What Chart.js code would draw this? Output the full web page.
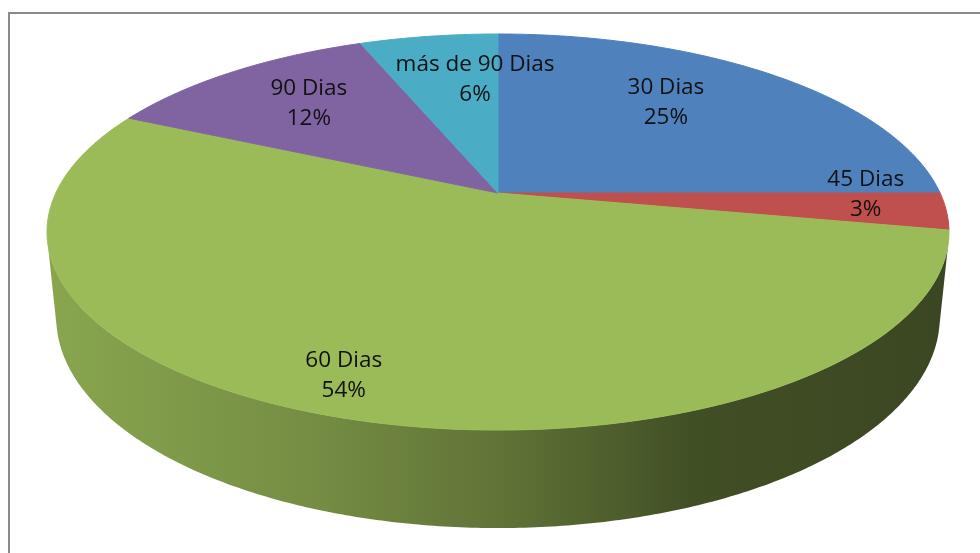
<!DOCTYPE html>
<html lang="es">
<head>
    <meta charset="UTF-8">
    <title>Plazos de pago</title>
    <script src="https://cdn.jsdelivr.net/npm/chart.js"></script>
    <style>
        body {
            margin: 0;
            padding: 0;
            background: #fff;
        }
        .wrap {
            position: relative;
            width: 980px;
            height: 553px;
            overflow: hidden;
            background: #fff;
        }
        .frame {
            position: absolute;
            left: 8px;
            top: 12px;
            width: 1100px;
            height: 700px;
            border: 2px solid #8a8a8a;
        }
        #pie {
            position: absolute;
            left: 0;
            top: 0;
        }
    </style>
</head>
<body>
<div class="wrap">
    <div class="frame"></div>
    <canvas id="pie" width="980" height="553"></canvas>
</div>

<script>
// data
const categories = ['30 Dias', '45 Dias', '60 Dias', '90 Dias', 'más de 90 Dias'];
const shares = [25, 3, 54, 12, 6];
const sliceColors = ['#4f81bd', '#c0504d', '#9bbb59', '#8064a2', '#4bacc6'];

// where each label sits: fraction along the slice, fraction of the radius
const labelSpots = [[0.43, 0.67], [0.07, 0.83], [0.51, 0.86], [0.52, 0.70], [0.77, 0.68]];

// fake 3D camera looking down on the disc
const cam = { tilt: 25.5 * Math.PI / 180, dist: 4.58, focal: 2025, depth: 0.214 };

function project(cx, cy, u, v, w) {
    const s = Math.sin(cam.tilt), c = Math.cos(cam.tilt);
    const z = cam.dist - v * c - w * s;
    return [cx + cam.focal * u / z, cy + cam.focal * (v * s - w * c) / z];
}

function rim(cx, cy, a0, a1, w) {
    const pts = [];
    const n = Math.max(2, Math.ceil(Math.abs(a1 - a0) / 0.01));
    for (let k = 0; k <= n; k++) {
        const a = a0 + (a1 - a0) * k / n;
        pts.push(project(cx, cy, Math.cos(a), Math.sin(a), w));
    }
    return pts;
}

function shade(hex, f) {
    const n = parseInt(hex.slice(1), 16);
    const r = Math.round(((n >> 16) & 255) * f);
    const g = Math.round(((n >> 8) & 255) * f);
    const b = Math.round((n & 255) * f);
    return 'rgb(' + r + ',' + g + ',' + b + ')';
}

const pie3d = {
    id: 'pie3d',
    beforeDatasetsDraw(chart) {
        const ctx = chart.ctx;
        const arcs = chart.getDatasetMeta(0).data;
        const sTan = Math.asin(1 / (cam.dist * Math.cos(cam.tilt)));

        ctx.save();
        // side wall first, only the part facing us
        arcs.forEach((arc) => {
            const p = arc.getProps(['x', 'y', 'startAngle', 'endAngle'], true);
            const a = Math.max(p.startAngle, sTan);
            const b = Math.min(p.endAngle, Math.PI - sTan);
            if (a >= b) return;
            const col = arc.options.backgroundColor;
            const left = project(p.x, p.y, -1, 0, 0)[0];
            const right = project(p.x, p.y, 1, 0, 0)[0];
            const g = ctx.createLinearGradient(left, 0, right, 0);
            g.addColorStop(0, shade(col, 0.88));
            g.addColorStop(0.28, shade(col, 0.76));
            g.addColorStop(0.5, shade(col, 0.62));
            g.addColorStop(0.72, shade(col, 0.42));
            g.addColorStop(1, shade(col, 0.38));
            const top = rim(p.x, p.y, a, b, 0);
            const bot = rim(p.x, p.y, b, a, -cam.depth);
            ctx.beginPath();
            top.concat(bot).forEach((pt, k) => k ? ctx.lineTo(pt[0], pt[1]) : ctx.moveTo(pt[0], pt[1]));
            ctx.closePath();
            ctx.fillStyle = g;
            ctx.fill();
        });

        // top faces
        arcs.forEach((arc) => {
            const p = arc.getProps(['x', 'y', 'startAngle', 'endAngle'], true);
            const col = arc.options.backgroundColor;
            const pts = rim(p.x, p.y, p.startAngle, p.endAngle, 0);
            ctx.beginPath();
            ctx.moveTo(p.x, p.y);
            pts.forEach(pt => ctx.lineTo(pt[0], pt[1]));
            ctx.closePath();
            ctx.fillStyle = col;
            ctx.fill();
            ctx.strokeStyle = col;
            ctx.lineWidth = 1;
            ctx.stroke();
        });
        ctx.restore();
        return false;
    },
    afterDraw(chart) {
        // labels: name on one line, share underneath
        const ctx = chart.ctx;
        const arcs = chart.getDatasetMeta(0).data;
        const vals = chart.data.datasets[0].data;
        const total = vals.reduce((s, v) => s + v, 0);
        ctx.save();
        ctx.font = '22.5px "Open Sans", sans-serif';
        ctx.fillStyle = '#111';
        ctx.textAlign = 'center';
        ctx.textBaseline = 'middle';
        arcs.forEach((arc, i) => {
            const p = arc.getProps(['x', 'y', 'startAngle', 'endAngle'], true);
            const spot = labelSpots[i];
            const ang = p.startAngle + (p.endAngle - p.startAngle) * spot[0];
            const pos = project(p.x, p.y, spot[1] * Math.cos(ang), spot[1] * Math.sin(ang), 0);
            ctx.fillText(chart.data.labels[i], pos[0], pos[1] - 15);
            ctx.fillText(Math.round(vals[i] / total * 100) + '%', pos[0], pos[1] + 15);
        });
        ctx.restore();
    }
};

new Chart(document.getElementById('pie'), {
    type: 'pie',
    data: {
        labels: categories,
        datasets: [{
            data: shares,
            backgroundColor: sliceColors,
            borderWidth: 0
        }]
    },
    options: {
        responsive: false,
        animation: false,
        layout: { padding: { left: 16, right: 0, top: 0, bottom: 167 } },
        plugins: {
            legend: { display: false },
            tooltip: { enabled: false }
        }
    },
    plugins: [pie3d]
});
</script>
</body>
</html>
